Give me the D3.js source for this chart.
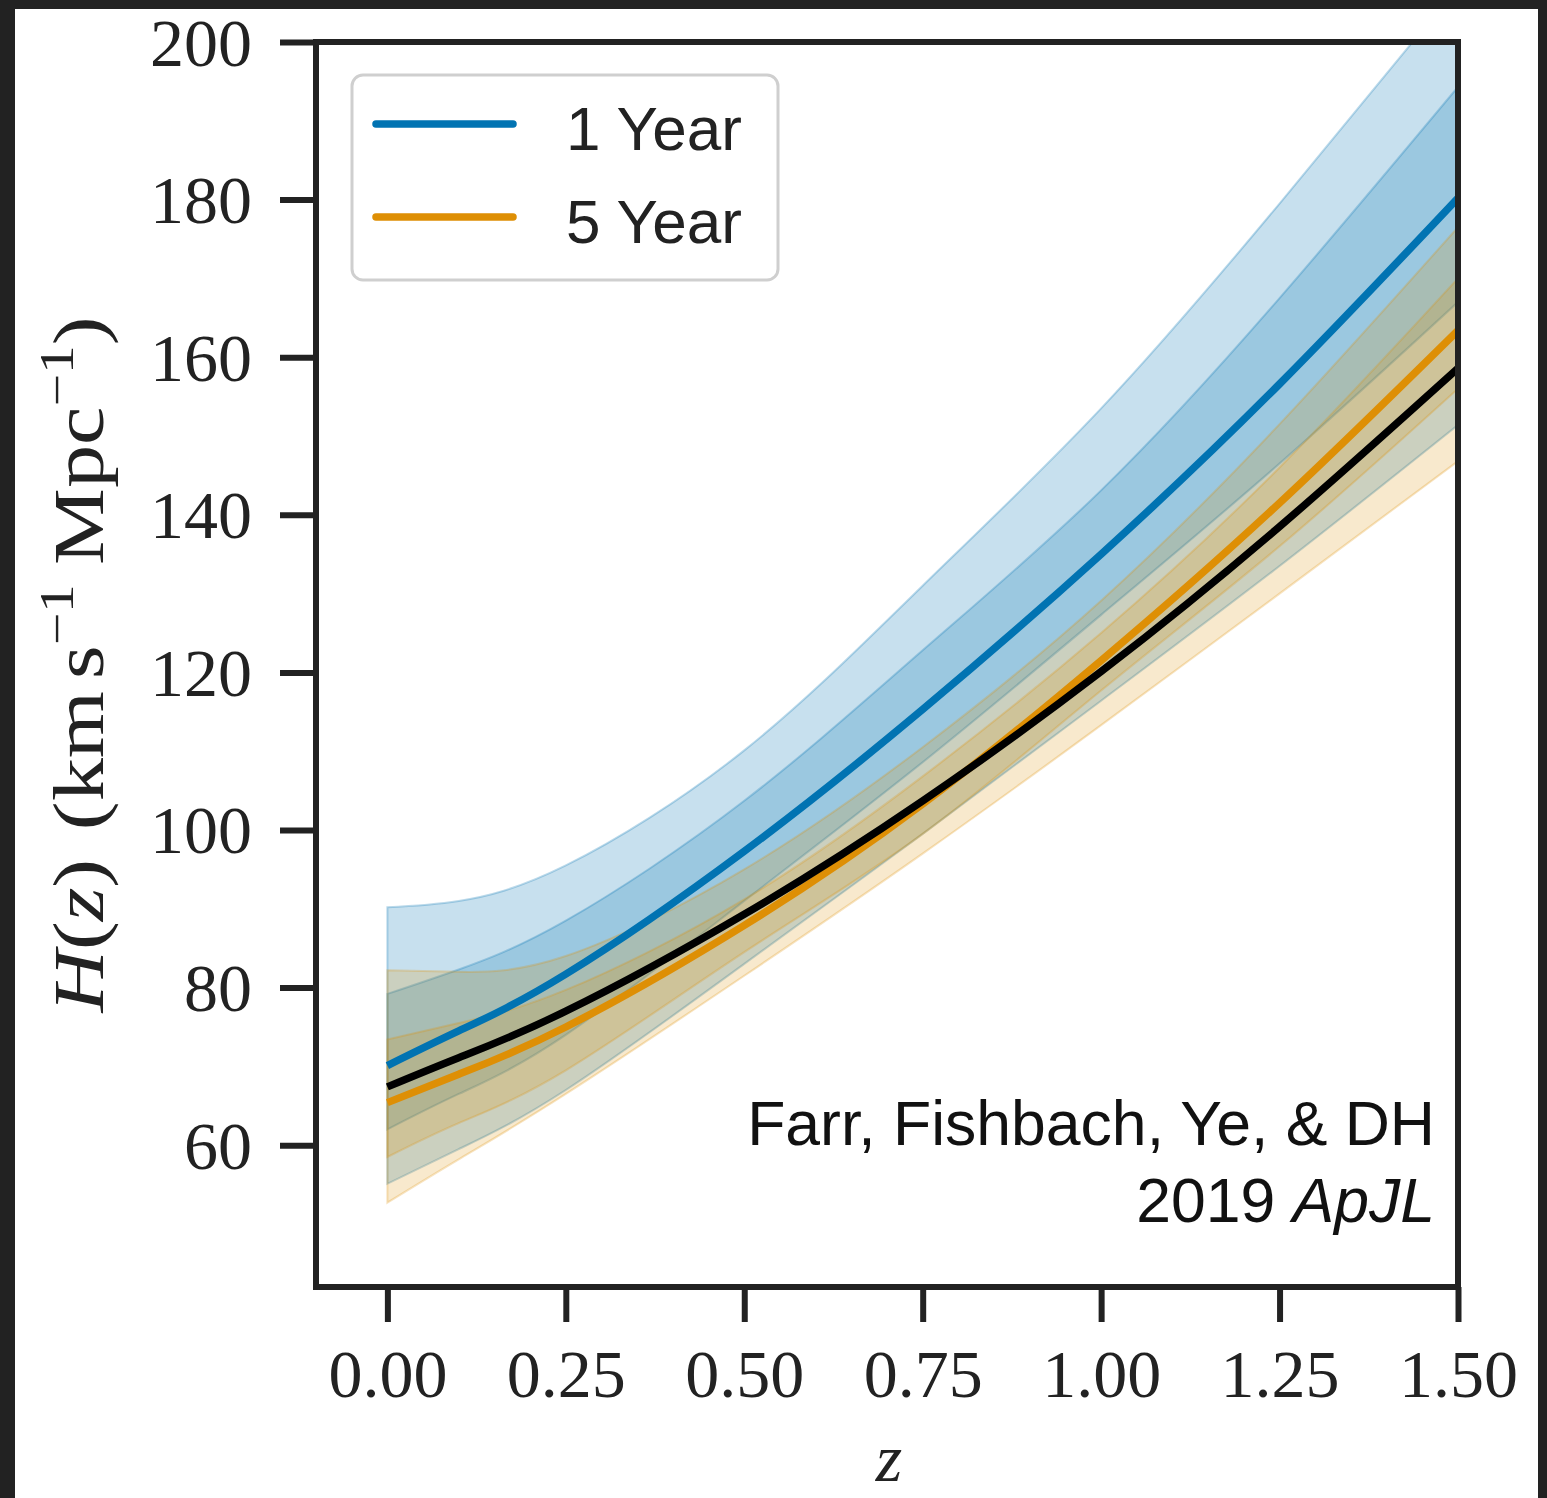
<!DOCTYPE html>
<html>
<head>
<meta charset="utf-8">
<script src="https://cdn.jsdelivr.net/npm/d3@7"></script>
<style>
  html, body { margin: 0; padding: 0; background: #fff; }
  svg { display: block; }
</style>
</head>
<body>
<svg id="chart" width="1547" height="1498"></svg>
<script>
// ---------------- data ----------------
const zGrid            = [0, 0.1, 0.25, 0.5, 0.75, 1.0, 1.25, 1.5];
const truthH           = [67.4, 71.1, 77.0, 89.3, 103.7, 120.1, 138.5, 158.6];

const oneYearMedian    = [70.1, 74.5, 81.7, 97.3, 115.3, 135.0, 156.6, 180.2];
const oneYearInnerLow  = [62.0, 66.5, 74.0, 91.0, 108.6, 127.3, 146.5, 167.0];
const oneYearInnerHigh = [79.2, 82.3, 88.5, 103.7, 122.8, 143.1, 167.5, 194.3];
const oneYearOuterLow  = [55.1, 59.5, 67.0, 83.0, 99.5, 116.4, 133.5, 151.4];
const oneYearOuterHigh = [90.2, 91.0, 95.5, 110.1, 131.0, 153.5, 179.5, 207.0];

const fiveYearMedian    = [65.4, 69.0, 75.0, 87.9, 103.3, 121.5, 141.5, 163.4];
const fiveYearInnerLow  = [58.5, 62.8, 69.5, 84.5, 99.5, 117.7, 136.0, 156.0];
const fiveYearInnerHigh = [73.4, 75.5, 79.7, 91.2, 106.8, 125.0, 146.0, 170.0];
const fiveYearOuterLow  = [52.7, 58.2, 66.5, 81.5, 97.0, 113.3, 130.0, 146.8];
const fiveYearOuterHigh = [82.2, 82.0, 84.0, 95.0, 110.5, 129.1, 151.5, 176.5];

const seriesNames = ["1 Year", "5 Year"];
const seriesColors = ["#0173B2", "#DE8F05"];
const xTicks = [0, 0.25, 0.5, 0.75, 1.0, 1.25, 1.5];
const yTicks = [60, 80, 100, 120, 140, 160, 180, 200];
const creditLines = ["Farr, Fishbach, Ye, & DH", "2019"];

// ---------------- layout ----------------
const svg = d3.select("#chart");
const W = 1547, H = 1498;
const mLeft = 316, mRight = 1458, mTop = 42, mBottom = 1287;

// dark frame of the screenshot
svg.append("rect").attr("x", 0).attr("y", 0).attr("width", W).attr("height", H).attr("fill", "#222");
svg.append("rect").attr("x", 15).attr("y", 9).attr("width", 1538 - 15).attr("height", H - 9).attr("fill", "#fff");

const x = d3.scaleLinear().domain([-0.1, 1.5]).range([mLeft, mRight]);
const y = d3.scaleLinear().domain([42, 200]).range([mBottom, mTop]);

svg.append("clipPath").attr("id", "plotClip")
  .append("rect").attr("x", mLeft).attr("y", mTop).attr("width", mRight - mLeft).attr("height", mBottom - mTop);

const plot = svg.append("g").attr("clip-path", "url(#plotClip)");

const idx = d3.range(zGrid.length);
const curve = d3.curveNatural;
const area = (lo, hi) => d3.area().x(i => x(zGrid[i])).y0(i => y(lo[i])).y1(i => y(hi[i])).curve(curve);
const line = (v) => d3.line().x(i => x(zGrid[i])).y(i => y(v[i])).curve(curve);

function band(lo, hi, color, alpha) {
  plot.append("path").datum(idx).attr("d", area(lo, hi))
    .attr("fill", color).attr("fill-opacity", alpha)
    .attr("stroke", color).attr("stroke-opacity", alpha + 0.05).attr("stroke-width", 2);
}

band(oneYearOuterLow, oneYearOuterHigh, seriesColors[0], 0.22);
band(oneYearInnerLow, oneYearInnerHigh, seriesColors[0], 0.22);
band(fiveYearOuterLow, fiveYearOuterHigh, seriesColors[1], 0.2);
band(fiveYearInnerLow, fiveYearInnerHigh, seriesColors[1], 0.2);

function drawLine(v, color) {
  plot.append("path").datum(idx).attr("d", line(v))
    .attr("fill", "none").attr("stroke", color).attr("stroke-width", 7.5)
    .attr("stroke-linecap", "butt").attr("stroke-linejoin", "round");
}
drawLine(oneYearMedian, seriesColors[0]);
drawLine(fiveYearMedian, seriesColors[1]);
drawLine(truthH, "#000");

// ---------------- axes ----------------
const axisColor = "#222";
const serif = "'Liberation Serif', 'DejaVu Serif', serif";

const xAxis = d3.axisBottom(x).tickValues(xTicks).tickSize(35).tickPadding(0)
  .tickFormat(d3.format(".2f"));
const gx = svg.append("g").attr("transform", `translate(0,${mBottom})`).call(xAxis);
gx.select(".domain").remove();
gx.selectAll(".tick line").attr("stroke", axisColor).attr("stroke-width", 6);
gx.selectAll(".tick text").attr("font-family", serif).attr("font-size", 68)
  .attr("fill", "#222").attr("y", 110).attr("dy", 0);

const yAxis = d3.axisLeft(y).tickValues(yTicks).tickSize(36).tickPadding(0)
  .tickFormat(d3.format("d"));
const gy = svg.append("g").attr("transform", `translate(${mLeft},0)`).call(yAxis);
gy.select(".domain").remove();
gy.selectAll(".tick line").attr("stroke", axisColor).attr("stroke-width", 6);
gy.selectAll(".tick text").attr("font-family", serif).attr("font-size", 68)
  .attr("fill", "#222").attr("x", -64).attr("dy", 23);

// spines
svg.append("rect").attr("x", mLeft).attr("y", mTop).attr("width", mRight - mLeft).attr("height", mBottom - mTop)
  .attr("fill", "none").attr("stroke", axisColor).attr("stroke-width", 6);

// axis labels
const ylab = svg.append("text")
  .attr("transform", `translate(103,${(mTop + mBottom) / 2}) rotate(-90) scale(1.2,1)`)
  .attr("text-anchor", "middle").attr("font-family", serif).attr("font-size", 72).attr("fill", "#222");
ylab.append("tspan").attr("font-style", "italic").text("H");
ylab.append("tspan").text("(");
ylab.append("tspan").attr("font-style", "italic").text("z");
ylab.append("tspan").text(")");
ylab.append("tspan").attr("dx", 24).text("(km");
ylab.append("tspan").attr("dx", 10).text("s");
ylab.append("tspan").attr("font-size", 48).attr("dy", -30).text("\u22121");
ylab.append("tspan").attr("dy", 30).attr("dx", 16).text("Mpc");
ylab.append("tspan").attr("font-size", 48).attr("dy", -30).text("\u22121");
ylab.append("tspan").attr("dy", 30).text(")");

svg.append("text").attr("x", (mLeft + mRight) / 2 + 2).attr("y", 1481)
  .attr("text-anchor", "middle").attr("font-family", serif).attr("font-style", "italic")
  .attr("font-size", 68).attr("fill", "#222").text("z");

// ---------------- legend ----------------
const sans = "'Liberation Sans', Arial, sans-serif";
const leg = svg.append("g");
leg.append("rect").attr("x", 352).attr("y", 75).attr("width", 426).attr("height", 205)
  .attr("rx", 11).attr("ry", 11).attr("fill", "#fff").attr("fill-opacity", 0.9)
  .attr("stroke", "#cfcfcf").attr("stroke-width", 3);
const legY = [124, 217];
seriesNames.forEach((name, i) => {
  leg.append("line").attr("x1", 376).attr("x2", 513).attr("y1", legY[i]).attr("y2", legY[i])
    .attr("stroke", seriesColors[i]).attr("stroke-width", 7.5).attr("stroke-linecap", "round");
  leg.append("text").attr("x", 566).attr("y", legY[i] + 26)
    .attr("font-family", sans).attr("font-size", 62).attr("fill", "#222").text(name);
});

// ---------------- credit ----------------
svg.append("text").attr("x", 1435).attr("y", 1145).attr("text-anchor", "end")
  .attr("font-family", sans).attr("font-size", 62.5).attr("fill", "#111").text(creditLines[0]);
const c2 = svg.append("text").attr("x", 1435).attr("y", 1222).attr("text-anchor", "end")
  .attr("font-family", sans).attr("font-size", 62.5).attr("fill", "#111");
c2.append("tspan").text(creditLines[1] + " ");
c2.append("tspan").attr("font-style", "italic").text("ApJL");
</script>
</body>
</html>
